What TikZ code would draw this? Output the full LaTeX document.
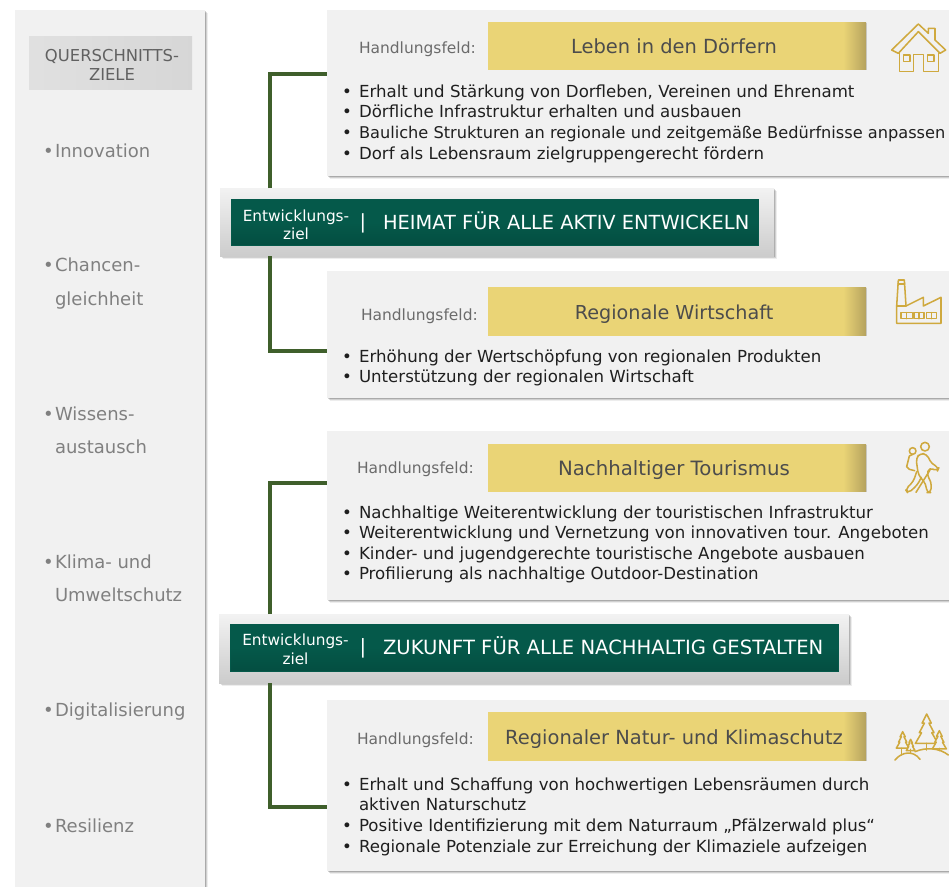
\documentclass[tikz,border=0pt]{standalone}
\usepackage{fontspec}
\setmainfont{DejaVu Sans}
\usetikzlibrary{shadows,calc}
\definecolor{panelgray}{HTML}{F1F1F1}
\definecolor{connG}{HTML}{3F5F2B}
\definecolor{devG}{HTML}{05594A}
\definecolor{devGd}{HTML}{044E41}
\definecolor{yel}{HTML}{EAD476}
\definecolor{yeld}{HTML}{B5A25E}
\definecolor{icon}{HTML}{CFA93E}
\pgfdeclarehorizontalshading{yelbar}{100bp}{color(0bp)=(yel); color(72bp)=(yel); color(75bp)=(yeld); color(100bp)=(yeld)}
\tikzset{
  softshadow/.style={
    general shadow={shadow xshift=2.4pt,shadow yshift=-2.4pt,fill=black,opacity=.07},
    general shadow={shadow xshift=1.7pt,shadow yshift=-1.7pt,fill=black,opacity=.12},
    general shadow={shadow xshift=1pt,shadow yshift=-1pt,fill=black,opacity=.18}},
  box/.style={rectangle,inner sep=0pt,outer sep=0pt,anchor=north west},
  panel/.style={box,fill=panelgray,softshadow},
  headbox/.style={box,left color=black!12,right color=black!16},
  devouter/.style={box,softshadow,top color=black!5,bottom color=black!20},
  devinner/.style={box,top color=devG,bottom color=devGd,middle color=devG,draw=devG,line width=.3pt},
  yelbox/.style={box,shading=yelbar,shading angle=0,general shadow={shadow xshift=.6pt,shadow yshift=-.6pt,fill=black,opacity=.15}},
  txt/.style={inner sep=0pt,outer sep=0pt,anchor=mid west,yshift=-2.2pt},
  ctxt/.style={inner sep=0pt,outer sep=0pt,anchor=mid,yshift=-2.2pt},
  body/.style={txt,text=black!88,font=\fontsize{12.46pt}{14pt}\selectfont},
  bodyfit/.style={txt,text=black!88,font=\fontsize{12.14pt}{14pt}\selectfont},
  hf/.style={txt,text=black!58,font=\fontsize{11.6pt}{14pt}\selectfont},
  ytitle/.style={ctxt,text=black!70,font=\fontsize{#1pt}{17pt}\selectfont},
  side/.style={txt,text=black!50,font=\fontsize{13.5pt}{16pt}\selectfont},
  headtxt/.style={ctxt,text=black!62,font=\fontsize{12.3pt}{15pt}\selectfont},
  devsmall/.style={ctxt,text=white,font=\fontsize{11.5pt}{13pt}\selectfont},
  devbig/.style={txt,text=white,font=\fontsize{#1pt}{17pt}\selectfont},
  conn/.style={draw=connG,line width=2.3pt},
  ico/.style={draw=icon,line width=1.15pt,line join=round,line cap=round,fill=none},
}
\newcommand{\bul}[3]{\node[body] (#1b) at (342,#2) {•};\node[body] (#1) at (359,#2) {#3};}
\newcommand{\tree}[3]{% apex x, apex y, half width
  \draw[ico,fill=panelgray] (#1,#2) -- ++(-.4*#3,.8*#3) -- ++(.2*#3,0) -- ++(-.45*#3,.85*#3) -- ++(.2*#3,0) -- ++(-.55*#3,.95*#3)
    -- ++(2*#3,0) -- ++(-.55*#3,-.95*#3) -- ++(.2*#3,0) -- ++(-.45*#3,-.85*#3) -- ++(.2*#3,0) -- cycle;}
\begin{document}
\begin{tikzpicture}[x=.75pt,y=-.75pt]
\useasboundingbox (0,0) rectangle (949,886);
\fill[white] (0,0) rectangle (949,886);

% left column
\node[panel,minimum width=142.5pt,minimum height=660pt] (left) at (15,10) {};
\node[headbox,minimum width=122.25pt,minimum height=39.75pt] (head) at (29,36) {};
\node[headtxt] (h1) at (112,54.5) {QUERSCHNITTS-};
\node[headtxt] (h2) at (112,74) {ZIELE};
\foreach \n/\y/\t in {a/151/Innovation,b/265/Chancen-,c/414/Wissens-,d/562/Klima- und,e/710/Digitalisierung,f/826/Resilienz}{
  \node[side] (s\n) at (55,\y) {\t};
  \node[side] (sb\n) at (43,\y) {•};
}
\node[side] (sb2) at (55,299) {gleichheit};
\node[side] (sc2) at (55,447) {austausch};
\node[side] (sd2) at (55,595) {Umweltschutz};

% panels
\node[panel,minimum width=466.5pt,minimum height=124.5pt] (p1) at (327,10) {};
\node[panel,minimum width=466.5pt,minimum height=95.25pt] (p2) at (327,271) {};
\node[panel,minimum width=466.5pt,minimum height=126.75pt] (p3) at (327,431) {};
\node[panel,minimum width=466.5pt,minimum height=128.25pt] (p4) at (327,700) {};

% development goals
\node[devouter,minimum width=415.5pt,minimum height=51pt] (d1) at (220,188) {};
\node[devinner,minimum width=395.25pt,minimum height=34.5pt] (d1i) at (231,199) {};
\node[devsmall] (d1a) at (296,215) {Entwicklungs-};
\node[devsmall] (d1b) at (296,233) {ziel};
\node[devbig=14.55] (d1s) at (359.5,222) {|};
\node[devbig=14.55] (d1t) at (383,223) {HEIMAT FÜR ALLE AKTIV ENTWICKELN};

\node[devouter,minimum width=472.5pt,minimum height=51.75pt] (d2) at (219,614) {};
\node[devinner,minimum width=456pt,minimum height=35.25pt] (d2i) at (230,624) {};
\node[devsmall] (d2a) at (295.5,639) {Entwicklungs-};
\node[devsmall] (d2b) at (295.5,658) {ziel};
\node[devbig=14.7] (d2s) at (359.5,647) {|};
\node[devbig=14.7] (d2t) at (383,648) {ZUKUNFT FÜR ALLE NACHHALTIG GESTALTEN};

% connectors
\coordinate (t1) at (270,74);
\coordinate (t2) at (270,351);
\coordinate (t3) at (270,483);
\coordinate (t4) at (270,807);
\draw[conn] (t1 |- d1.north) |- (p1.west |- t1);
\draw[conn] (t2 |- d1.south) |- (p2.west |- t2);
\draw[conn] (t3 |- d2.north) |- (p3.west |- t3);
\draw[conn] (t4 |- d2.south) |- (p4.west |- t4);

% action fields
\node[hf] (l1) at (359,47) {Handlungsfeld:};
\node[yelbox,minimum width=283.5pt,minimum height=35.25pt] (y1) at (488,22) {};
\node[ytitle=14.6] (y1t) at (674,47) {Leben in den Dörfern};
\bul{a1}{91}{Erhalt und Stärkung von Dorfleben, Vereinen und Ehrenamt}
\bul{a2}{111}{Dörfliche Infrastruktur erhalten und ausbauen}
\node[body] (a3b) at (342,132) {•};
\node[bodyfit] (a3) at (359,132) {Bauliche Strukturen an regionale und zeitgemäße Bedürfnisse anpassen};
\bul{a4}{153}{Dorf als Lebensraum zielgruppengerecht fördern}

\node[hf] (l2) at (361,314) {Handlungsfeld:};
\node[yelbox,minimum width=283.5pt,minimum height=36pt] (y2) at (488,287) {};
\node[ytitle=14.4] (y2t) at (674,313) {Regionale Wirtschaft};
\bul{b1}{356}{Erhöhung der Wertschöpfung von regionalen Produkten}
\bul{b2}{376}{Unterstützung der regionalen Wirtschaft}

\node[hf] (l3) at (357,467) {Handlungsfeld:};
\node[yelbox,minimum width=283.5pt,minimum height=35.25pt] (y3) at (488,444) {};
\node[ytitle=14.8] (y3t) at (674,469) {Nachhaltiger Tourismus};
\bul{c1}{512}{Nachhaltige Weiterentwicklung der touristischen Infrastruktur}
\bul{c2}{532}{Weiterentwicklung und Vernetzung von innovativen tour. Angeboten}
\bul{c3}{553}{Kinder- und jugendgerechte touristische Angebote ausbauen}
\bul{c4}{573}{Profilierung als nachhaltige Outdoor-Destination}

\node[hf] (l4) at (357,738) {Handlungsfeld:};
\node[yelbox,minimum width=283.5pt,minimum height=36pt] (y4) at (488,712) {};
\node[ytitle=14.6] (y4t) at (674,738) {Regionaler Natur- und Klimaschutz};
\bul{e1}{784}{Erhalt und Schaffung von hochwertigen Lebensräumen durch}
\node[body] (e1c) at (359,804) {aktiven Naturschutz};
\bul{e2}{825}{Positive Identifizierung mit dem Naturraum „Pfälzerwald plus“}
\bul{e3}{846}{Regionale Potenziale zur Erreichung der Klimaziele aufzeigen}

% house icon
\begin{scope}[shift={(850,0)},x=.25pt,y=-.25pt]
\draw[ico] (125,150) -- (205,72) -- (235,100) -- (235,85) -- (255,85) -- (255,120) -- (287,150) -- (270,160) -- (205,95) -- (145,160) -- cycle;
\draw[ico] (148,160) -- (148,215) -- (190,215) -- (190,163) -- (220,163) -- (220,215) -- (265,215) -- (265,160);
\draw[ico] (160,165) rectangle (180,185);
\draw[ico] (232,165) rectangle (252,185);
\end{scope}

% factory icon
\begin{scope}[shift={(870,270)},x=.25pt,y=-.25pt]
\draw[ico] (85,30) -- (103,30) -- (108,108) -- (80,108) -- cycle;
\draw[ico] (84,42) -- (104,42);
\draw[ico] (80,108) -- (80,160) -- (213,160) -- (213,82) -- (160,108) -- (160,82) -- (108,108);
\foreach \a/\b in {93/127,132/162,170/200}{
  \draw[ico] (\a,128) rectangle (\b,146);
  \draw[ico] ({(\a+\b)/2},128) -- ({(\a+\b)/2},146);
}
\end{scope}

% hiker icon
\begin{scope}[shift={(880,430)},x=.25pt,y=-.25pt]
\draw[ico] (135,50) circle (13);
\draw[ico] (98,63) circle (10);
\draw[ico] (98,73) -- (88,78) -- (80,110) -- (88,118) -- (104,122);
\draw[ico,rounded corners=3pt] (120,70) -- (140,72) -- (155,102) -- (177,112) -- (172,124) -- (148,112) -- (140,135) -- (154,155) -- (153,188) -- (140,188) -- (138,162) -- (115,135) -- (108,85) -- cycle;
\draw[ico,rounded corners=3pt] (110,125) -- (100,155) -- (76,178) -- (84,190) -- (112,165) -- (124,142);
\draw[ico] (150,120) -- (108,187);
\end{scope}

% trees icon
\begin{scope}[shift={(880,700)},x=.25pt,y=-.25pt]
\tree{140}{42}{34}
\tree{178}{92}{21}
\tree{68}{95}{19}
\tree{92}{118}{13}
\draw[ico] (128,130) -- (150,130);
\draw[ico] (140,130) -- (140,150);
\draw[ico] (178,145) -- (178,152);
\draw[ico] (65,145) -- (65,165);
\draw[ico] (92,148) -- (92,160);
\draw[ico] (45,180) .. controls (65,155) and (100,150) .. (120,178);
\draw[ico] (105,155) .. controls (140,140) and (180,145) .. (205,165);
\end{scope}
\end{tikzpicture}
\end{document}
